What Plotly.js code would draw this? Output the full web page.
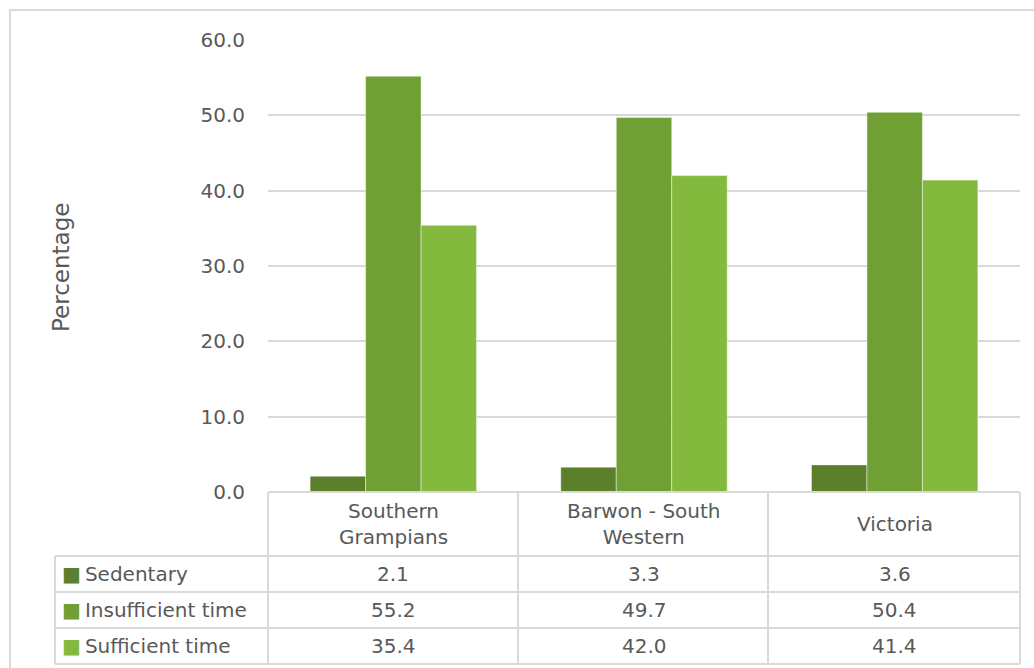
<!DOCTYPE html>
<html>
<head>
<meta charset="utf-8">
<script src="https://cdn.plot.ly/plotly-3.0.1.min.js"></script>
<style>html,body{margin:0;padding:0;background:#fff;}#chart{width:1034px;height:668px;}</style>
</head>
<body>
<div id="chart"></div>
<script>
// ---- data ----
const categories = ["Southern Grampians", "Barwon - South Western", "Victoria"];
const categoryLabels = ["Southern<br>Grampians", "Barwon - South<br>Western", "Victoria"];
const seriesNames = ["Sedentary", "Insufficient time", "Sufficient time"];
const sedentary = [2.1, 3.3, 3.6];
const insufficientTime = [55.2, 49.7, 50.4];
const sufficientTime = [35.4, 42.0, 41.4];
const yTicks = [0, 10, 20, 30, 40, 50, 60];

// ---- style ----
const colors = ["#5B7F2A", "#70A033", "#83BA3E"];
const textColor = "#595959";
const lineColor = "#D9D9D9";
const FONT = "DejaVu Sans, Verdana, sans-serif";
const FS = 20;

const W = 1034, H = 668;
const L = 268, R = 1020, T = 40, B = 492;
const px = x => (x - L) / (R - L);
const py = y => (B - y) / (B - T);

const seriesValues = [sedentary, insufficientTime, sufficientTime];
const traces = seriesValues.map((vals, i) => ({
  type: "bar",
  name: seriesNames[i],
  x: categories,
  y: vals,
  marker: { color: colors[i], line: { color: "rgba(255,255,255,0.45)", width: 1 } },
  hoverinfo: "x+y+name"
}));

// table geometry (pixels)
const tableLeft = 55;
const colEdges = [268, 518, 768, 1020];
const rowEdges = [492, 556, 592, 628, 664];

const shapes = [];
const lineStyle = { color: lineColor, width: 2 };
// outer chart border
shapes.push({ type: "rect", xref: "paper", yref: "paper", x0: px(10), x1: px(1060), y0: py(700), y1: py(10), line: lineStyle, fillcolor: "rgba(0,0,0,0)", layer: "below" });
// header top (axis line)
shapes.push({ type: "line", xref: "paper", yref: "paper", x0: px(268), x1: px(1020), y0: py(492), y1: py(492), line: lineStyle });
// horizontal row lines
for (let r = 1; r < rowEdges.length; r++) {
  shapes.push({ type: "line", xref: "paper", yref: "paper", x0: px(tableLeft), x1: px(1020), y0: py(rowEdges[r]), y1: py(rowEdges[r]), line: lineStyle });
}
// vertical lines
colEdges.forEach(cx => {
  shapes.push({ type: "line", xref: "paper", yref: "paper", x0: px(cx), x1: px(cx), y0: py(492), y1: py(664), line: lineStyle });
});
shapes.push({ type: "line", xref: "paper", yref: "paper", x0: px(tableLeft), x1: px(tableLeft), y0: py(556), y1: py(664), line: lineStyle });

const annotations = [];
// y-axis title
annotations.push({ text: "Percentage", xref: "paper", yref: "paper", x: px(61), y: py(268), textangle: -90, showarrow: false, font: { family: FONT, size: 23, color: textColor }, xanchor: "center", yanchor: "middle" });
// category headers
categoryLabels.forEach((c, j) => {
  annotations.push({ text: c, xref: "x", yref: "paper", x: categories[j], y: py(524), showarrow: false, font: { family: FONT, size: FS, color: textColor }, xanchor: "center", yanchor: "middle", align: "center" });
});
// row labels and values
seriesNames.forEach((name, i) => {
  const yc = py((rowEdges[i + 1] + rowEdges[i + 2]) / 2);
  annotations.push({ text: '<span style="color:' + colors[i] + '">■</span>\u2009' + name, xref: "paper", yref: "paper", x: px(60), y: yc, showarrow: false, font: { family: FONT, size: FS, color: textColor }, xanchor: "left", yanchor: "middle" });
  seriesValues[i].forEach((v, j) => {
    annotations.push({ text: v.toFixed(1), xref: "x", yref: "paper", x: categories[j], y: yc, showarrow: false, font: { family: FONT, size: FS, color: textColor }, xanchor: "center", yanchor: "middle" });
  });
});

const layout = {
  width: W, height: H,
  margin: { l: L, r: W - R, t: T, b: H - B, pad: 0 },
  paper_bgcolor: "#fff", plot_bgcolor: "#fff",
  barmode: "group", bargap: 0.336, bargroupgap: 0,
  showlegend: false,
  font: { family: FONT, size: FS, color: textColor },
  xaxis: { showticklabels: false, ticks: "", showgrid: false, zeroline: false, showline: false, fixedrange: true },
  yaxis: { range: [0, 60], tickvals: yTicks, tickformat: ".1f", showgrid: true, gridcolor: lineColor, gridwidth: 2, zeroline: false, showline: false, ticks: "", ticklabelstandoff: 22, tickfont: { family: FONT, size: FS, color: textColor }, fixedrange: true },
  shapes: shapes,
  annotations: annotations
};

Plotly.newPlot("chart", traces, layout, { displayModeBar: false, staticPlot: true });
</script>
</body>
</html>
